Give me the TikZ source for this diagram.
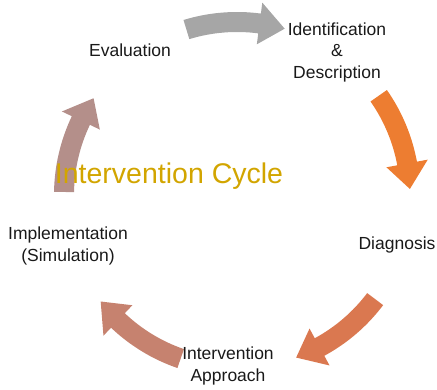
\documentclass[tikz,border=0pt]{standalone}
\usepackage{fontspec}
\setmainfont{Liberation Sans}
\usepackage{xcolor}
\usetikzlibrary{positioning, calc}
\definecolor{arrgray}{HTML}{A6A6A6}
\definecolor{arrorange}{HTML}{ED7D31}
\definecolor{arrrust}{HTML}{DA7850}
\definecolor{arrsalmon}{HTML}{C6826F}
\definecolor{arrmauve}{HTML}{B48F8A}
\definecolor{cyclegold}{HTML}{D2A500}
\tikzset{
    label/.style={
        align=center,
        font=\fontsize{17.5}{21.5}\selectfont,
        text=black!90,
        inner sep=0pt,
    },
    title/.style={
        font=\fontsize{28.5}{32}\selectfont,
        text=cyclegold,
        inner sep=0pt,
    },
}

\begin{document}
\begin{tikzpicture}[x=1pt, y=1pt]
      \useasboundingbox (0,0) rectangle (437,390);

      % cycle arrows: tail angle / colour
      \begin{scope}[shift={(237,195)}]
      \foreach \a/\col in {107/arrgray, 35/arrorange, -37/arrrust, -109/arrsalmon, -181/arrmauve}{
          \pgfmathsetmacro{\b}{\a-33}
          \pgfmathsetmacro{\hb}{\b+8.5}
          \fill[\col] (\a:183) arc[start angle=\a, end angle=\hb, radius=183]
              -- (\hb:194) -- (\b:173) -- (\hb:152) -- (\hb:163)
              arc[start angle=\hb, end angle=\a, radius=163] -- cycle;
      }
      \end{scope}

      \node[label] (eval) at (130,340) {Evaluation};
      \node[label] (ident) at (337,338) {Identification\\\&\\Description};
      \node[label] (diag) at (397,145) {Diagnosis};
      \node[label] (appr) at (228,24) {Intervention\\Approach};
      \node[label] (impl) at (68,144) {Implementation\\(Simulation)};

      \node[title] (cycle) at (169,214) {Intervention Cycle};
    \end{tikzpicture}
\end{document}
